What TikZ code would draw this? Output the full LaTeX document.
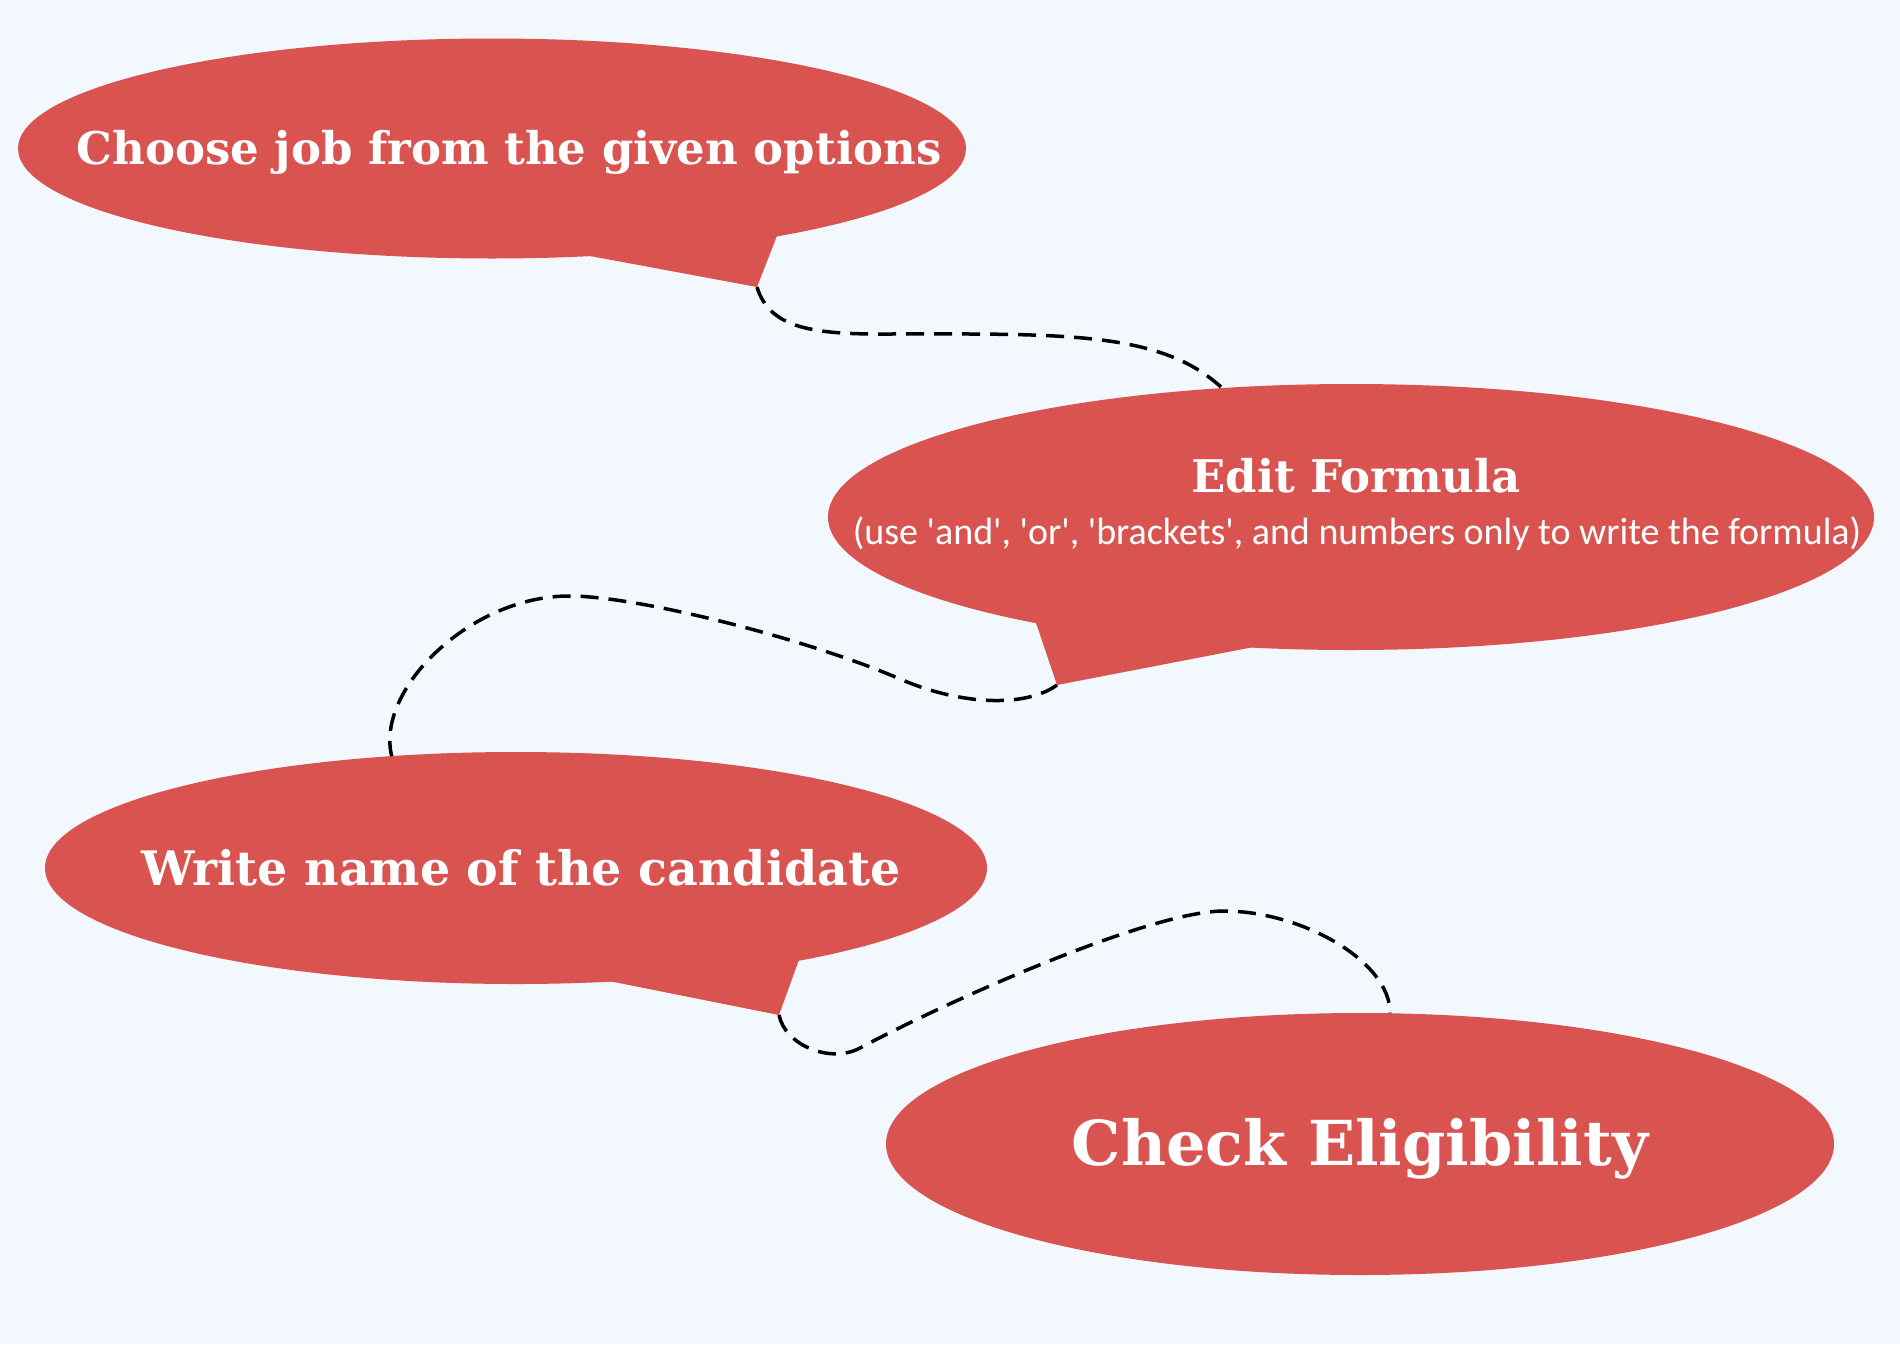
\documentclass[tikz,border=0pt]{standalone}
\usepackage{fontspec}
\setmainfont{DejaVu Serif}
\newfontfamily\notefont{Carlito}
\usetikzlibrary{shapes,positioning}
\definecolor{bubblered}{RGB}{217,84,80}
\definecolor{paper}{RGB}{243,248,254}
\tikzstyle{bubble} = [ellipse, fill=bubblered, inner sep=0pt, outer sep=0pt]
\tikzstyle{tail} = [fill=bubblered]
\tikzstyle{headline} = [text=white, inner sep=0pt,
    font=\bfseries\fontsize{45}{50}\selectfont]
\tikzstyle{note} = [text=white, inner sep=0pt,
    font=\notefont\fontsize{38}{42}\selectfont]
\tikzstyle{line} = [draw, line width=3.5pt, dash pattern=on 18pt off 10pt]

\begin{document}
\begin{tikzpicture}[x=1pt, y=-1pt, on grid]
        \fill [paper] (0,0) rectangle (1900,1344);
        \useasboundingbox (0,0) rectangle (1900,1344);

        % Components
        \node [bubble, minimum width=948pt, minimum height=220pt] (job) at (492,148.5) {};
        \node [bubble, minimum width=1046pt, minimum height=266pt,
            below right=368.5pt and 859pt of job] (form) {};
        \node [bubble, minimum width=942pt, minimum height=232pt,
            below left=351pt and 835pt of form] (name) {};
        \node [bubble, minimum width=948pt, minimum height=262pt,
            below right=276pt and 844pt of name] (check) {};

        % Tails
        \fill [tail, shift={(job.center)}] (79,104) -- (265,138.5) coordinate (jobtip) -- (289,77) -- cycle;
        \fill [tail, shift={(form.center)}] (-319,94) -- (-294,168) coordinate (formtip) -- (-74,125.5) -- cycle;
        \fill [tail, shift={(name.center)}] (76,109.6) -- (263,147) coordinate (nametip) -- (286,83.4) -- cycle;

        % Texts
        \node [headline, xshift=17pt, yshift=-4pt] (jobtxt) at (job) {Choose job from the given options};
        \node [headline, above right=41pt and 5pt of form] (formtxt) {Edit Formula};
        \node [note, below right=17pt and 6pt of form] (formnote)
            {(use 'and', 'or', 'brackets', and numbers only to write the formula)};
        \node [headline, font=\bfseries\fontsize{47.5}{52}\selectfont, xshift=5pt] (nametxt) at (name)
            {Write name of the candidate};
        \node [headline, font=\bfseries\fontsize{62}{68}\selectfont, yshift=-5pt] (checktxt) at (check)
            {Check Eligibility};

        % Connections
        \path [line] (jobtip) .. controls (769,327) and (810,334) .. (880,334)
            .. controls (1060,334) and (1160,330) .. (form.135);
        \path [line] (formtip) .. controls (1025,708) and (960,705) .. (900,679)
            .. controls (810,640) and (640,596) .. (569,596)
            .. controls (470,596) and (375,690) .. (name.138);
        \path [line] (nametip) .. controls (785,1045) and (830,1064) .. (860,1048)
            .. controls (950,1000) and (1150,911) .. (1224,911)
            .. controls (1300,911) and (1390,960) .. (check.77);
    \end{tikzpicture}
\end{document}
